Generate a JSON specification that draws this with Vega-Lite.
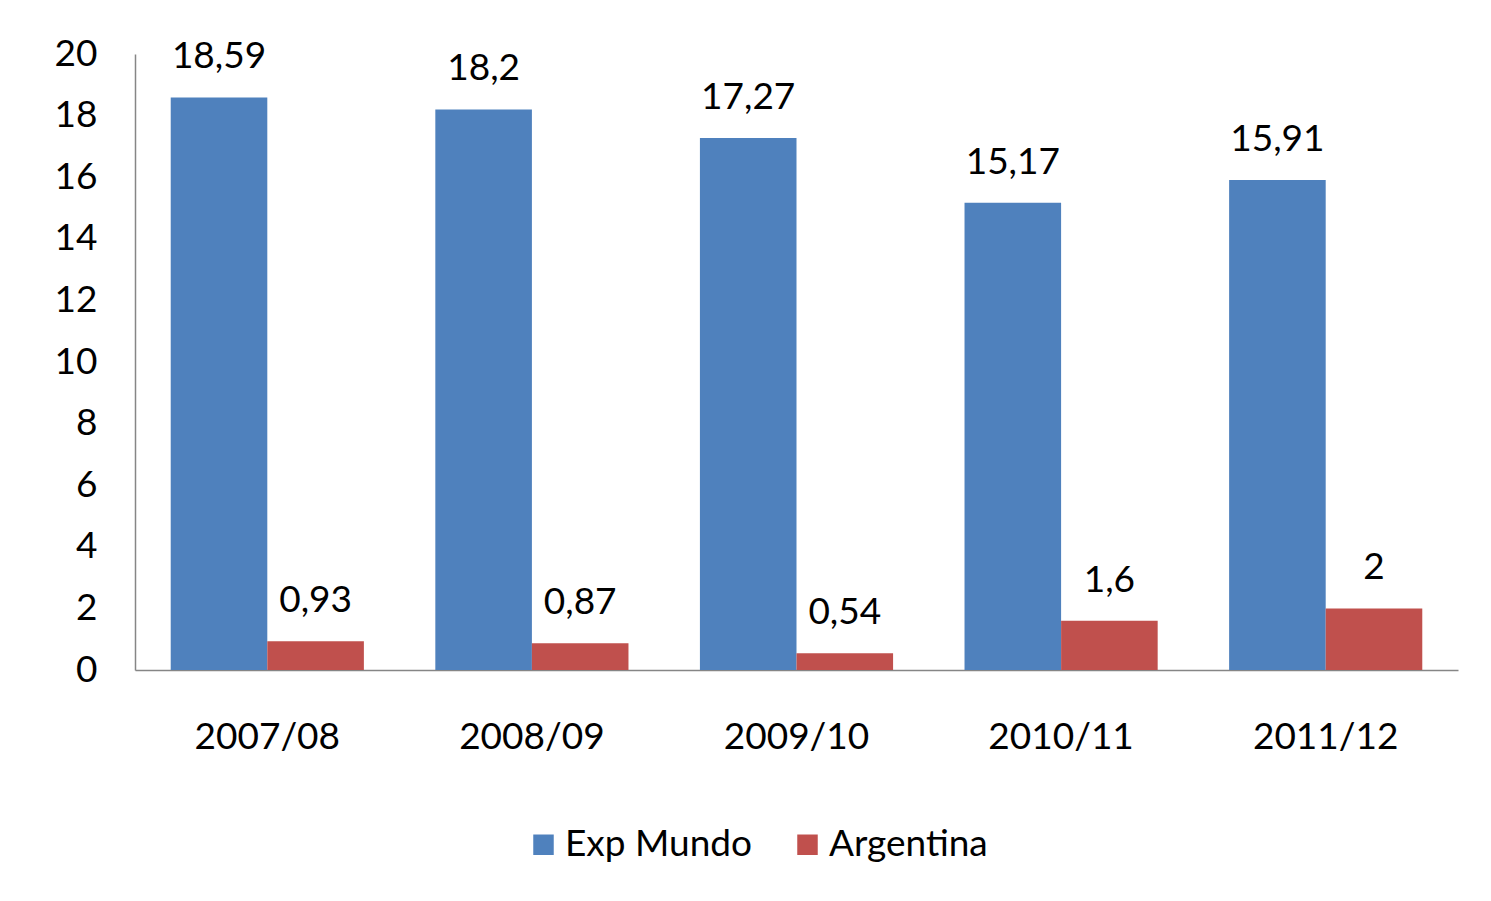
{
  "$schema": "https://vega.github.io/schema/vega-lite/v6.json",
  "width": 1323,
  "height": 616,
  "autosize": {"type": "none"},
  "padding": {"left": 135, "top": 54, "right": 33, "bottom": 231},
  "background": "white",
  "config": {
    "view": {"stroke": null},
    "font": "Lato",
    "locale": {"number": {"decimal": ",", "thousands": ".", "grouping": [3], "currency": ["", ""]}},
    "axis": {"labelFont": "Lato", "labelFontSize": 37, "labelColor": "#000", "ticks": false, "grid": false, "domainColor": "#868686", "domainWidth": 1.5, "title": null}
  },
  "data": {
    "values": [
      {"year": "2007/08", "series": "Exp Mundo", "value": 18.59},
      {"year": "2008/09", "series": "Exp Mundo", "value": 18.2},
      {"year": "2009/10", "series": "Exp Mundo", "value": 17.27},
      {"year": "2010/11", "series": "Exp Mundo", "value": 15.17},
      {"year": "2011/12", "series": "Exp Mundo", "value": 15.91},
      {"year": "2007/08", "series": "Argentina", "value": 0.93},
      {"year": "2008/09", "series": "Argentina", "value": 0.87},
      {"year": "2009/10", "series": "Argentina", "value": 0.54},
      {"year": "2010/11", "series": "Argentina", "value": 1.6},
      {"year": "2011/12", "series": "Argentina", "value": 2}
    ]
  },
  "encoding": {
    "x": {"field": "year", "type": "nominal", "sort": null,
      "scale": {"paddingInner": 0.27, "paddingOuter": 0.135},
      "axis": {"labelAngle": 0, "labelPadding": 49, "labelBaseline": "top"}},
    "xOffset": {"field": "series", "type": "nominal", "sort": ["Exp Mundo", "Argentina"], "scale": {"paddingInner": 0, "paddingOuter": 0}},
    "y": {"field": "value", "type": "quantitative",
      "scale": {"domain": [0, 20], "nice": false},
      "axis": {"values": [0, 2, 4, 6, 8, 10, 12, 14, 16, 18, 20], "labelPadding": 38}}
  },
  "layer": [
    {
      "mark": {"type": "bar"},
      "encoding": {
        "color": {"field": "series", "type": "nominal", "sort": ["Exp Mundo", "Argentina"],
          "scale": {"domain": ["Exp Mundo", "Argentina"], "range": ["#4F81BD", "#C0504D"]},
          "legend": {"title": null, "orient": "none", "direction": "horizontal", "legendX": 390, "legendY": 772, "padding": 0,
            "symbolType": "square", "symbolSize": 420, "symbolStrokeWidth": 0, "labelFont": "Lato", "labelFontSize": 37, "labelColor": "#000",
            "labelOffset": 3, "labelLimit": 400, "columnPadding": 37}}
      }
    },
    {
      "mark": {"type": "text", "baseline": "alphabetic", "dy": -29, "fontSize": 37, "font": "Lato", "color": "#000"},
      "encoding": {
        "text": {"field": "value", "type": "quantitative", "format": "~g"}
      }
    }
  ]
}
